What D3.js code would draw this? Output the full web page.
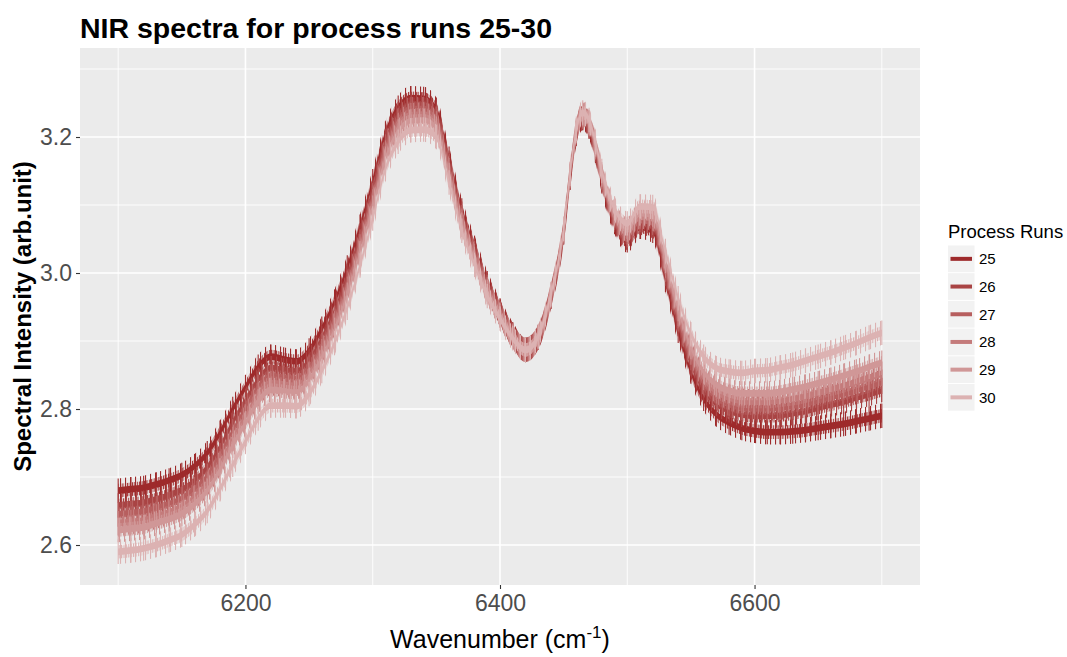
<!DOCTYPE html>
<html>
<head>
<meta charset="utf-8">
<script src="https://cdn.jsdelivr.net/npm/d3@7"></script>
<style>
  body { margin: 0; background: #ffffff; }
  text { font-family: "Liberation Sans", Arial, Helvetica, sans-serif; }
</style>
</head>
<body>
<svg id="chart" width="1067" height="657"></svg>
<script>
// NIR spectra, mean intensity per process run (arb. unit) at each wavenumber (cm-1)
const wavenumbers = [6100, 6110, 6120, 6130, 6140, 6150, 6160, 6170, 6180, 6190,
  6200, 6210, 6220, 6230, 6240, 6250, 6260, 6270, 6280, 6290,
  6300, 6310, 6320, 6330, 6340, 6350, 6360, 6370, 6380, 6390,
  6400, 6410, 6420, 6430, 6440, 6450, 6455, 6460, 6465, 6470, 6475, 6480, 6490,
  6500, 6510, 6520, 6530, 6540, 6550, 6560, 6570, 6580, 6590,
  6600, 6610, 6620, 6630, 6640, 6650, 6660, 6670, 6680, 6690, 6700];

const run25 = [2.680, 2.682, 2.684, 2.689, 2.695, 2.703, 2.716, 2.735, 2.765, 2.800,
  2.832, 2.862, 2.877, 2.873, 2.870, 2.886, 2.918, 2.958, 3.008, 3.068,
  3.135, 3.205, 3.243, 3.257, 3.256, 3.240, 3.168, 3.092, 3.037, 2.985,
  2.945, 2.910, 2.887, 2.905, 2.965, 3.060, 3.140, 3.205, 3.228, 3.215, 3.180, 3.135, 3.075,
  3.048, 3.068, 3.062, 2.990, 2.915, 2.855, 2.815, 2.792, 2.780, 2.772,
  2.768, 2.766, 2.766, 2.767, 2.769, 2.772, 2.775, 2.778, 2.782, 2.786, 2.790];

const run26 = [2.658, 2.660, 2.662, 2.667, 2.673, 2.681, 2.694, 2.714, 2.744, 2.780,
  2.812, 2.843, 2.860, 2.857, 2.855, 2.871, 2.904, 2.944, 2.995, 3.055,
  3.123, 3.194, 3.233, 3.248, 3.248, 3.233, 3.162, 3.087, 3.033, 2.982,
  2.943, 2.909, 2.887, 2.905, 2.965, 3.060, 3.140, 3.205, 3.228, 3.216, 3.181, 3.137, 3.078,
  3.052, 3.074, 3.069, 2.999, 2.925, 2.867, 2.829, 2.808, 2.798, 2.792,
  2.790, 2.790, 2.791, 2.794, 2.797, 2.802, 2.807, 2.811, 2.817, 2.822, 2.828];

const run27 = [2.645, 2.647, 2.649, 2.654, 2.660, 2.668, 2.682, 2.701, 2.732, 2.767,
  2.800, 2.832, 2.848, 2.846, 2.844, 2.861, 2.894, 2.934, 2.985, 3.046,
  3.114, 3.186, 3.225, 3.241, 3.241, 3.227, 3.157, 3.082, 3.029, 2.979,
  2.941, 2.908, 2.887, 2.905, 2.966, 3.061, 3.142, 3.207, 3.230, 3.218, 3.184, 3.140, 3.081,
  3.056, 3.078, 3.074, 3.005, 2.932, 2.875, 2.838, 2.817, 2.808, 2.802,
  2.801, 2.801, 2.802, 2.805, 2.808, 2.813, 2.818, 2.823, 2.828, 2.834, 2.840];

const run28 = [2.632, 2.634, 2.636, 2.642, 2.648, 2.656, 2.670, 2.690, 2.720, 2.756,
  2.789, 2.821, 2.838, 2.836, 2.834, 2.852, 2.885, 2.926, 2.977, 3.039,
  3.105, 3.177, 3.217, 3.232, 3.233, 3.220, 3.151, 3.077, 3.025, 2.976,
  2.939, 2.907, 2.887, 2.906, 2.967, 3.063, 3.143, 3.209, 3.232, 3.220, 3.186, 3.142, 3.085,
  3.060, 3.083, 3.080, 3.011, 2.940, 2.883, 2.846, 2.826, 2.817, 2.812,
  2.811, 2.811, 2.813, 2.815, 2.819, 2.824, 2.829, 2.834, 2.840, 2.846, 2.852];

const run29 = [2.622, 2.624, 2.626, 2.632, 2.638, 2.646, 2.660, 2.680, 2.710, 2.746,
  2.779, 2.811, 2.828, 2.826, 2.824, 2.842, 2.875, 2.916, 2.968, 3.029,
  3.096, 3.168, 3.208, 3.223, 3.224, 3.212, 3.144, 3.071, 3.020, 2.972,
  2.937, 2.906, 2.887, 2.906, 2.968, 3.064, 3.145, 3.210, 3.234, 3.222, 3.189, 3.145, 3.088,
  3.064, 3.088, 3.086, 3.018, 2.947, 2.891, 2.855, 2.836, 2.827, 2.823,
  2.823, 2.823, 2.825, 2.829, 2.833, 2.838, 2.843, 2.849, 2.855, 2.862, 2.868];

const run30 = [2.590, 2.592, 2.595, 2.600, 2.607, 2.615, 2.630, 2.650, 2.682, 2.718,
  2.752, 2.786, 2.805, 2.805, 2.804, 2.822, 2.856, 2.897, 2.949, 3.011,
  3.080, 3.153, 3.193, 3.210, 3.211, 3.200, 3.133, 3.062, 3.012, 2.966,
  2.933, 2.904, 2.887, 2.907, 2.969, 3.065, 3.146, 3.212, 3.236, 3.225, 3.193, 3.150, 3.095,
  3.073, 3.098, 3.097, 3.032, 2.963, 2.910, 2.877, 2.860, 2.855, 2.853,
  2.856, 2.857, 2.861, 2.865, 2.871, 2.877, 2.883, 2.890, 2.897, 2.905, 2.912];

const runs = ["25", "26", "27", "28", "29", "30"];
const runValues = [run25, run26, run27, run28, run29, run30];
const runColors = ["#9E2A2B", "#A94444", "#B75F5F", "#C47B7B", "#D09797", "#DCB2B2"];

const xMajorTicks = [6200, 6400, 6600];
const xMinorTicks = [6100, 6300, 6500, 6700];
const yMajorTicks = [2.6, 2.8, 3.0, 3.2];
const yMinorTicks = [2.7, 2.9, 3.1, 3.3];

// ---- layout ----
const svg = d3.select("#chart");
const panel = { left: 80, right: 920, top: 48, bottom: 585 };

const x = d3.scaleLinear().domain([6070, 6730]).range([panel.left, panel.right]);
const y = d3.scaleLinear().domain([2.5412, 3.3309]).range([panel.bottom, panel.top]);

// panel background
svg.append("rect")
  .attr("x", panel.left).attr("y", panel.top)
  .attr("width", panel.right - panel.left).attr("height", panel.bottom - panel.top)
  .attr("fill", "#EBEBEB");

// grid
const grid = svg.append("g");
grid.selectAll(".xminor").data(xMinorTicks).join("line")
  .attr("x1", d => x(d)).attr("x2", d => x(d))
  .attr("y1", panel.top).attr("y2", panel.bottom)
  .attr("stroke", "#fff").attr("stroke-width", 0.9);
grid.selectAll(".yminor").data(yMinorTicks).join("line")
  .attr("y1", d => y(d)).attr("y2", d => y(d))
  .attr("x1", panel.left).attr("x2", panel.right)
  .attr("stroke", "#fff").attr("stroke-width", 0.9);
grid.selectAll(".xmajor").data(xMajorTicks).join("line")
  .attr("x1", d => x(d)).attr("x2", d => x(d))
  .attr("y1", panel.top).attr("y2", panel.bottom)
  .attr("stroke", "#fff").attr("stroke-width", 1.6);
grid.selectAll(".ymajor").data(yMajorTicks).join("line")
  .attr("y1", d => y(d)).attr("y2", d => y(d))
  .attr("x1", panel.left).attr("x2", panel.right)
  .attr("stroke", "#fff").attr("stroke-width", 1.6);

// hatch patterns for the replicate scatter around each mean spectrum
const defs = svg.append("defs");
runs.forEach((r, i) => {
  const pOuter = defs.append("pattern")
    .attr("id", "scatterOuter" + r).attr("patternUnits", "userSpaceOnUse")
    .attr("x", i).attr("width", 5).attr("height", 8);
  pOuter.append("rect").attr("x", 0).attr("y", 0).attr("width", 1.1).attr("height", 8)
    .attr("fill", runColors[i]);
  const pInner = defs.append("pattern")
    .attr("id", "scatterInner" + r).attr("patternUnits", "userSpaceOnUse")
    .attr("x", i * 0.7).attr("width", 2.4).attr("height", 8);
  pInner.append("rect").attr("x", 0).attr("y", 0).attr("width", 1.1).attr("height", 8)
    .attr("fill", runColors[i]);
});

// replicate scatter half-widths (arb. unit)
const outerHalf = 0.018, innerHalf = 0.010, coreHalf = 0.005;

const bandArea = half => d3.area()
  .x(d => x(d.wn))
  .y0(d => y(d.v - half))
  .y1(d => y(d.v + half))
  .curve(d3.curveMonotoneX);

const spectra = svg.append("g");
runs.forEach((r, i) => {
  const pts = wavenumbers.map((wn, j) => ({ wn: wn, v: runValues[i][j] }));
  const g = spectra.append("g");
  g.append("path").datum(pts).attr("d", bandArea(outerHalf))
    .attr("fill", "url(#scatterOuter" + r + ")");
  g.append("path").datum(pts).attr("d", bandArea(innerHalf))
    .attr("fill", "url(#scatterInner" + r + ")");
  g.append("path").datum(pts).attr("d", bandArea(coreHalf))
    .attr("fill", runColors[i]);
  // individual sampled readings
  g.selectAll("line").data(pts).join("line")
    .attr("x1", d => x(d.wn)).attr("x2", d => x(d.wn))
    .attr("y1", d => y(d.v - outerHalf)).attr("y2", d => y(d.v + outerHalf))
    .attr("stroke", runColors[i]).attr("stroke-width", 1.1);
});

// axes
const yAxis = svg.append("g")
  .attr("transform", `translate(${panel.left},0)`)
  .call(d3.axisLeft(y).tickValues(yMajorTicks).tickFormat(d3.format(".1f"))
    .tickSizeInner(4).tickSizeOuter(0).tickPadding(4));
yAxis.select(".domain").remove();
yAxis.selectAll(".tick line").attr("stroke", "#333333").attr("stroke-width", 1.1);
yAxis.selectAll(".tick text").attr("fill", "#4D4D4D").style("font-size", "23px")
  .style("font-family", "'Liberation Sans', Arial, sans-serif");

const xAxis = svg.append("g")
  .attr("transform", `translate(0,${panel.bottom})`)
  .call(d3.axisBottom(x).tickValues(xMajorTicks).tickFormat(d3.format("d"))
    .tickSizeInner(4).tickSizeOuter(0).tickPadding(6));
xAxis.select(".domain").remove();
xAxis.selectAll(".tick line").attr("stroke", "#333333").attr("stroke-width", 1.1);
xAxis.selectAll(".tick text").attr("fill", "#4D4D4D").style("font-size", "23px")
  .style("font-family", "'Liberation Sans', Arial, sans-serif");

// titles
svg.append("text")
  .attr("x", 80).attr("y", 38)
  .style("font-size", "28.5px").style("font-weight", "bold").attr("fill", "#000")
  .text("NIR spectra for process runs 25-30");

const xt = svg.append("text")
  .attr("x", (panel.left + panel.right) / 2).attr("y", 648)
  .attr("text-anchor", "middle").style("font-size", "25px").attr("fill", "#000");
xt.append("tspan").text("Wavenumber (cm");
xt.append("tspan").attr("dy", -10).style("font-size", "17px").text("-1");
xt.append("tspan").attr("dy", 10).text(")");

svg.append("text")
  .attr("transform", `translate(31,${(panel.top + panel.bottom) / 2}) rotate(-90)`)
  .attr("text-anchor", "middle")
  .style("font-size", "24px").style("font-weight", "bold").attr("fill", "#000")
  .text("Spectral Intensity (arb.unit)");

// legend
const legend = svg.append("g").attr("transform", "translate(948,0)");
legend.append("text").attr("x", 0).attr("y", 238)
  .style("font-size", "18.5px").attr("fill", "#000").text("Process Runs");
const keyH = 27.7, keyTop = 245.5;
const keys = legend.selectAll(".key").data(runs).join("g")
  .attr("transform", (d, i) => `translate(0,${keyTop + i * keyH})`);
keys.append("rect").attr("x", 0).attr("y", 0).attr("width", 26.5).attr("height", keyH - 1)
  .attr("fill", "#F2F2F2");
keys.append("line").attr("x1", 2.5).attr("x2", 24).attr("y1", keyH / 2 - 0.5).attr("y2", keyH / 2 - 0.5)
  .attr("stroke", (d, i) => runColors[i]).attr("stroke-width", 4);
keys.append("text").attr("x", 31).attr("y", keyH / 2 + 5)
  .style("font-size", "15px").attr("fill", "#000").text(d => d);
</script>
</body>
</html>
